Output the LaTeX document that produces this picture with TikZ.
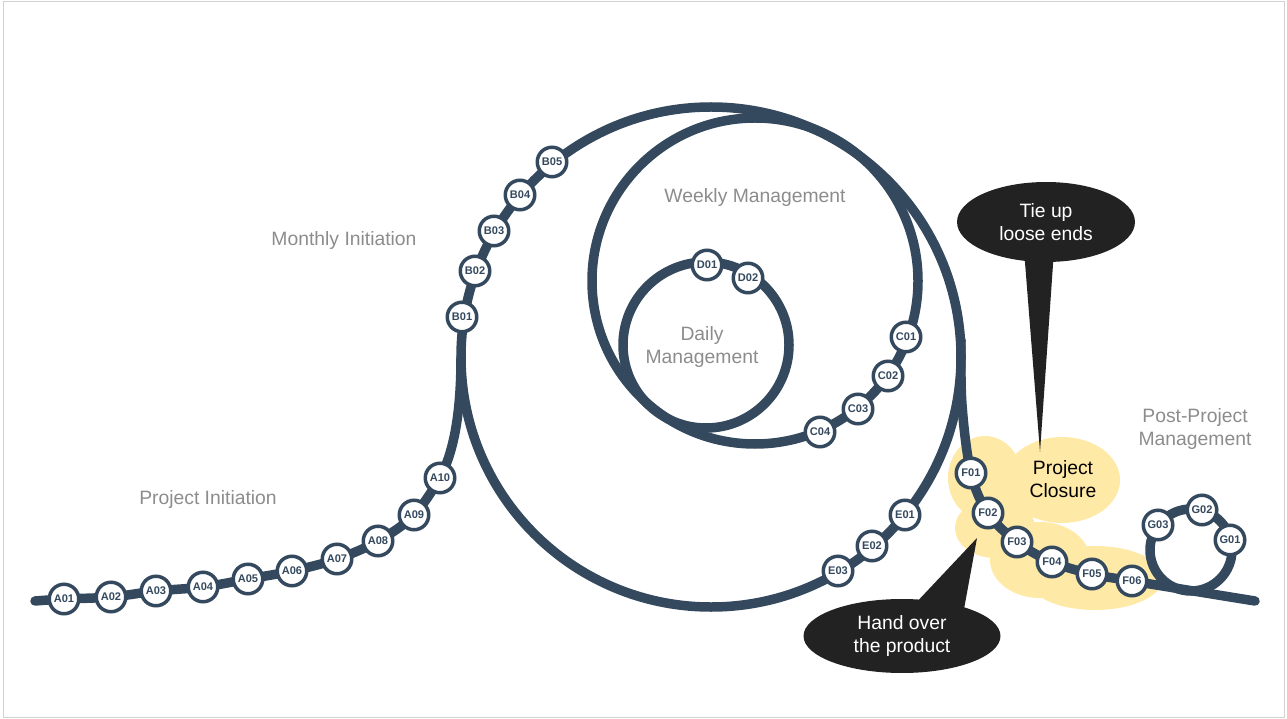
\documentclass[tikz,border=0pt]{standalone}
\usepackage{fontspec}
\setmainfont{Liberation Sans}
\usetikzlibrary{positioning,shapes.geometric}
\definecolor{trackblue}{RGB}{52,73,94}
\definecolor{closureyellow}{RGB}{255,233,166}
\definecolor{calloutblack}{RGB}{34,34,34}
\definecolor{labelgray}{RGB}{140,140,140}
\tikzstyle{track} = [line width=0.19cm, color=trackblue, line cap=round]
\tikzstyle{stop} = [circle, draw=trackblue, fill=white, line width=0.07cm, minimum size=0.59cm, inner sep=0pt, text=trackblue, font=\fontsize{6.3}{7}\selectfont\bfseries]
\tikzstyle{phase} = [text=labelgray, align=center, font=\fontsize{11}{13}\selectfont]
\tikzstyle{callout} = [ellipse, fill=calloutblack, text=white, align=center, inner sep=0pt, font=\fontsize{11}{13}\selectfont]
\pgfdeclarelayer{background}
\pgfsetlayers{background,main}

\begin{document}
\begin{tikzpicture}[x=0.02cm, y=-0.02cm]
\useasboundingbox (0,0) rectangle (1287,719);
\draw[gray!35, line width=0.02cm] (3,2) rectangle (1284,717);

% stops along the track
\foreach \n/\x/\y in {A01/64/599, A02/111/597, A03/156/591, A04/203/587, A05/248/579,
    A06/292/571, A07/337/559, A08/378/541, A09/414/515, A10/440/478,
    B01/462/317, B02/475/271, B03/494/231, B04/520/195, B05/552/162,
    C01/906/337, C02/888/376, C03/858/409, C04/820/432,
    D01/707/265, D02/748/278,
    E01/905/515, E02/872/546, E03/838/571,
    F01/971/473, F02/988/513, F03/1017/542, F04/1052/562, F05/1092/574, F06/1132/581,
    G01/1230/540, G02/1202/510, G03/1158/525}
  \node[stop] (\n) at (\x,\y) {\n};

\coordinate (start) at (35,601);
\coordinate (finish) at (1255,601);
\coordinate (hub) at (711,357);
\coordinate (weekhub) at (755,281);
\coordinate (dayhub) at (706,345);
\coordinate (posthub) at (1191,550);
\coordinate (tietip) at (1040,452);
\coordinate (handtip) at (977,538);

\begin{pgfonlayer}{background}
% closure blob
\fill[closureyellow] (985,478) ellipse[x radius=37, y radius=42]
  (1062,480) ellipse[x radius=58, y radius=43]
  (995,528) ellipse[x radius=40, y radius=30]
  (1040,560) ellipse[x radius=50, y radius=38]
  (1095,578) ellipse[x radius=68, y radius=32];

\node[callout, minimum width=3.56cm, minimum height=1.6cm] (tie) at (1046,222) {Tie up\\loose ends};
\fill[calloutblack] (1024,250) -- (tietip) -- (1054,250) -- cycle;
\node[callout, minimum width=3.94cm, minimum height=1.48cm] (hand) at (902,636) {Hand over\\the product};
\fill[calloutblack] (912,607) -- (handtip) -- (962,620) -- cycle;

\draw[track] (hub) circle[radius=250];
\draw[track] (weekhub) circle[radius=163];
\draw[track] (dayhub) circle[radius=83];
\draw[track] (posthub) circle[radius=41];
\draw[track] plot[smooth, tension=0.6] coordinates {(start) (A01.center) (A02.center) (A03.center)
    (A04.center) (A05.center) (A06.center) (A07.center) (A08.center) (A09.center) (A10.center)}
  .. controls (452,455) and (461,420) .. (461,357);
\draw[track] plot[smooth, tension=0.6] coordinates {(961,340) (962,405) (F01.center) (F02.center)
    (F03.center) (F04.center) (F05.center) (F06.center) (finish)};
\end{pgfonlayer}

\node[phase] (initiation) at (208,500) {Project Initiation};
\node[phase] (monthly) at (344,241) {Monthly Initiation};
\node[phase] (weekly) at (755,198) {Weekly Management};
\node[phase] (daily) at (702,347) {Daily\\Management};
\node[phase] (post) at (1195,429) {Post-Project\\Management};
\node[align=center, font=\fontsize{11}{13}\selectfont] (closure) at (1063,479) {Project\\Closure};
\end{tikzpicture}
\end{document}
